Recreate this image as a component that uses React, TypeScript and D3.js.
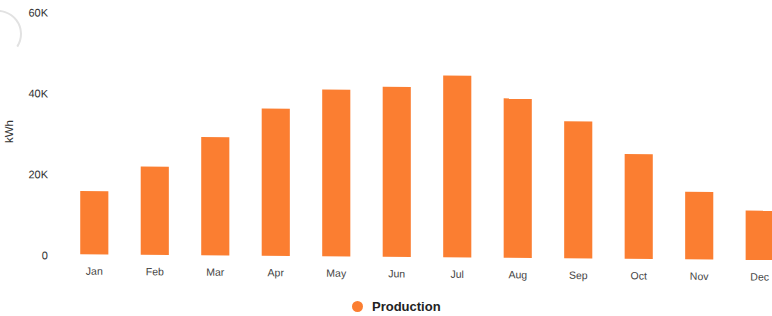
import React from "react";
import * as d3 from "d3";

const months = ["Jan", "Feb", "Mar", "Apr", "May", "Jun", "Jul", "Aug", "Sep", "Oct", "Nov", "Dec"];
const production = [15600, 21800, 29200, 36400, 41200, 42000, 44900, 39400, 33900, 25900, 16700, 12200];
const yTicks = [0, 20000, 40000, 60000];
const yTickLabels = ["0", "20K", "40K", "60K"];
const seriesName = "Production";
const axisTitle = "kWh";

const W = 772;
const H = 316;
const SKEW = 0.49; // degrees, page tilt of the scanned original

export default function App() {
  const x = d3.scaleBand<string>().domain(months).range([64.5, 789.5]).paddingInner(0.535).paddingOuter(0.26);
  const y = d3.scaleLinear().domain([0, 60000]).range([253.5, 10.7]);
  const color = "#fb7e31";
  const arc = d3.arc()({ innerRadius: 22, outerRadius: 24, startAngle: -0.3, endAngle: 2.15 } as any) as string;

  return (
    <svg width={W} height={H} style={{ position: "absolute", left: 0, top: 0, background: "#fff" }} fontFamily="'Liberation Sans', Arial, sans-serif">
      <path d={arc} transform="translate(-2,34)" fill="#e2e2e2" />
      <g transform={`skewY(${SKEW})`}>
        {yTicks.map((t, i) => (
          <text key={t} x={48} y={y(t) + 1.6} dy="0.35em" textAnchor="end" fontSize={11} fill="#333">
            {yTickLabels[i]}
          </text>
        ))}
        {months.map((m, i) => (
          <rect key={m} x={x(m)} y={y(production[i])} width={x.bandwidth()} height={y(0) - y(production[i])} fill={color} />
        ))}
        {months.map((m) => (
          <text key={m} x={(x(m) as number) + x.bandwidth() / 2} y={270.3} dy="0.35em" textAnchor="middle" fontSize={10.5} fill="#444">
            {m}
          </text>
        ))}
      </g>
      <text transform="translate(13,131.5) rotate(-90)" textAnchor="middle" fontSize={11.5} fill="#333">
        {axisTitle}
      </text>
      <circle cx={357.5} cy={306.5} r={5.5} fill={color} />
      <text x={372} y={306.5} dy="0.35em" fontSize={13} fontWeight="bold" fill="#222">
        {seriesName}
      </text>
    </svg>
  );
}
